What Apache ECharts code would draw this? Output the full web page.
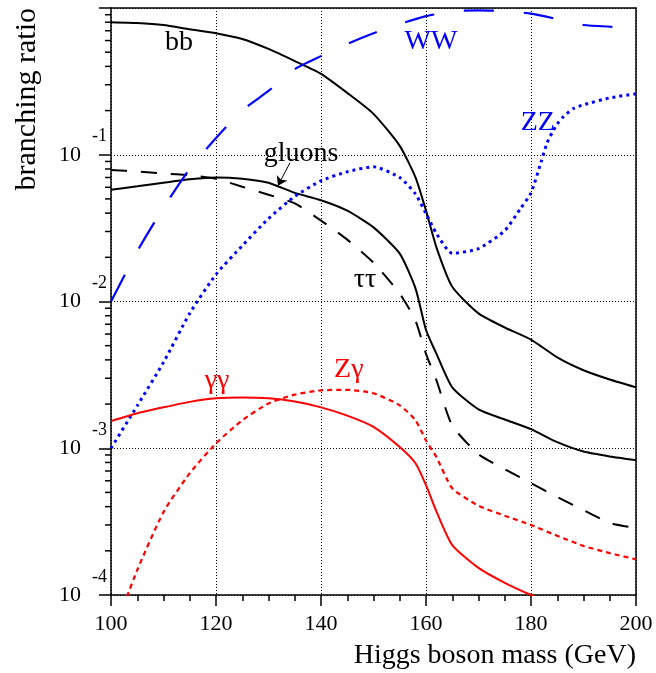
<!DOCTYPE html>
<html>
<head>
<meta charset="utf-8">
<script src="https://cdn.jsdelivr.net/npm/echarts@6/dist/echarts.min.js"></script>
<style>
  html, body { margin: 0; padding: 0; background: #fff; }
  #chart { width: 656px; height: 673px; }
</style>
</head>
<body>
<div id="chart"></div>
<script>
// Higgs boson mass (GeV)
var mass = [100, 105, 110, 115, 120, 125, 130, 135, 140, 145, 150, 155, 158, 160, 162, 165, 170, 175, 180, 185, 190, 195, 200];

var brBB  = [0.80, 0.79, 0.765, 0.716, 0.673, 0.615, 0.526, 0.435, 0.356, 0.264, 0.19, 0.115, 0.070, 0.0416, 0.0233, 0.0126, 0.0083, 0.00665, 0.0055, 0.00416, 0.0034, 0.00294, 0.0026];
var brGG  = [0.0578, 0.061, 0.0645, 0.068, 0.070, 0.0687, 0.0645, 0.055, 0.049, 0.0416, 0.032, 0.0212, 0.0123, 0.0064, 0.0044, 0.0026, 0.00184, 0.00157, 0.00135, 0.0011, 0.00095, 0.00088, 0.00083];
var brTT  = [0.0787, 0.077, 0.0746, 0.0725, 0.0687, 0.0605, 0.0534, 0.0466, 0.0356, 0.0264, 0.0184, 0.0113, 0.0074, 0.0044, 0.0029, 0.00143, 0.00091, 0.00072, 0.000578, 0.000465, 0.000379, 0.00031, 0.000286];
var brWW  = [0.01, 0.022, 0.0436, 0.080, 0.13, 0.20, 0.272, 0.383, 0.47, 0.569, 0.673, 0.778, 0.84, 0.88, 0.91, 0.953, 0.964, 0.955, 0.915, 0.84, 0.766, 0.746, 0.734];
var brAA  = [0.00153, 0.00173, 0.0019, 0.00207, 0.00219, 0.00222, 0.00219, 0.00208, 0.0019, 0.00167, 0.0014, 0.00102, 0.00079, 0.00056, 0.00037, 0.000219, 0.000153, 0.000121, 0.0001, 0.000085, 0.000075, 0.000068, 0.000062];
var brZA  = [0.00005, 0.000148, 0.000367, 0.000676, 0.00108, 0.00155, 0.00202, 0.00232, 0.00248, 0.0025, 0.00237, 0.00196, 0.00155, 0.00113, 0.00087, 0.000534, 0.000406, 0.000347, 0.0003, 0.000253, 0.000216, 0.000193, 0.000175];

var massZZ = [100, 105, 110, 115, 120, 125, 130, 135, 140, 145, 150, 155, 158, 160, 162, 165, 170, 175, 178, 180, 182, 183, 184, 185, 186, 188, 190, 195, 200];
var brZZ   = [0.001, 0.00195, 0.00385, 0.0083, 0.0153, 0.024, 0.0367, 0.052, 0.0665, 0.0766, 0.0828, 0.070, 0.054, 0.0397, 0.029, 0.0213, 0.0229, 0.0304, 0.043, 0.055, 0.091, 0.119, 0.141, 0.162, 0.179, 0.206, 0.219, 0.244, 0.26];

// minor ticks of the log axis: 2..9 x 10^n
var minorTicks = [];
[-4, -3, -2, -1].forEach(function (n) {
    for (var k = 2; k <= 9; k++) minorTicks.push(k * Math.pow(10, n));
});

var FONT = 'Liberation Serif';
var X_MIN = 100, X_MAX = 200;

function pairs(xs, ys) {
    return xs.map(function (x, i) { return [x, ys[i]]; });
}

function tag(text, x, y, color) {
    return {
        symbol: 'circle',
        symbolSize: 1,
        itemStyle: { color: 'rgba(0,0,0,0)' },
        label: { show: true, position: 'inside', formatter: text, color: color, fontFamily: FONT, fontSize: 28 },
        data: [{ coord: [x, y] }]
    };
}

function line(name, xs, ys, color, width, type, mark) {
    return {
        name: name,
        type: 'line',
        data: pairs(xs, ys),
        showSymbol: false,
        symbol: 'none',
        smooth: 0.2,
        clip: true,
        lineStyle: { color: color, width: width, type: type },
        markPoint: mark
    };
}

var chart = echarts.init(document.getElementById('chart'));

var gluSeries = line('gluons', mass, brGG, '#000', 2, 'solid', tag('gluons', 136.2, 0.1017, '#000'));
gluSeries.markLine = {
    silent: true,
    symbol: ['none', 'arrow'],
    symbolSize: 9,
    label: { show: false },
    lineStyle: { color: '#000', width: 1, type: 'solid' },
    data: [[{ coord: [134.1, 0.0883] }, { coord: [131.8, 0.0615] }]]
};

// short ticks on the left edge for 2..9 x 10^n
var minorTickSeries = {
    type: 'custom',
    silent: true,
    clip: false,
    z: 5,
    data: minorTicks.map(function (v) { return [X_MIN, v]; }),
    renderItem: function (params, api) {
        var p = api.coord([api.value(0), api.value(1)]);
        return {
            type: 'line',
            shape: { x1: p[0] - 6, y1: p[1], x2: p[0], y2: p[1] },
            style: { stroke: '#000', lineWidth: 1.5 }
        };
    }
};

var dotted = { color: '#000', type: [1, 2], width: 1 };
var tickStyle = { color: '#000', width: 1.5 };

chart.setOption({
    animation: false,
    grid: { left: 111, right: 20, top: 8, bottom: 78 },
    xAxis: [{
        type: 'value', min: X_MIN, max: X_MAX, interval: 20,
        axisLine: { show: true, lineStyle: { color: '#000', width: 1.5 } },
        axisTick: { show: true, length: 11, lineStyle: tickStyle },
        minorTick: { show: true, splitNumber: 4, length: 6, lineStyle: tickStyle },
        axisLabel: { fontFamily: FONT, fontSize: 22, color: '#000', margin: 18 },
        splitLine: { show: true, lineStyle: dotted }
    }, {
        type: 'value', min: X_MIN, max: X_MAX, position: 'top',
        axisLine: { show: true, lineStyle: { color: '#000', width: 1.5 } },
        axisTick: { show: false }, axisLabel: { show: false }, splitLine: { show: false }
    }],
    yAxis: [{
        type: 'log', logBase: 10, min: 0.0001, max: 1,
        axisLine: { show: true, lineStyle: { color: '#000', width: 1.5 } },
        axisTick: { show: true, length: 12, lineStyle: tickStyle },
        axisLabel: {
            margin: 4, color: '#000',
            formatter: function (v) {
                var e = Math.round(Math.log10(v));
                if (e === 0) return '';
                return '{b|10}{e|' + e + '}';
            },
            rich: {
                b: { fontFamily: FONT, fontSize: 22, lineHeight: 24, color: '#000' },
                e: { fontFamily: FONT, fontSize: 18, lineHeight: 18, color: '#000', padding: [0, 0, 36, 11] }
            }
        },
        splitLine: { show: true, lineStyle: dotted }
    }, {
        type: 'log', logBase: 10, min: 0.0001, max: 1, position: 'right',
        axisLine: { show: true, lineStyle: { color: '#000', width: 1.5 } },
        axisTick: { show: false }, axisLabel: { show: false }, splitLine: { show: false }
    }],
    graphic: [{
        type: 'text', x: 12, y: 8, rotation: Math.PI / 2,
        style: { text: 'branching ratio', font: '30px "Liberation Serif"', fill: '#000', align: 'right', verticalAlign: 'top' }
    }, {
        type: 'text', x: 636, y: 656,
        style: { text: 'Higgs boson mass (GeV)', font: '28px "Liberation Serif"', fill: '#000', align: 'right', verticalAlign: 'middle' }
    }],
    series: [
        minorTickSeries,
        line('bb', mass, brBB, '#000', 2, 'solid', tag('bb', 112.95, 0.578, '#000')),
        gluSeries,
        line('ττ', mass, brTT, '#000', 2, [16, 14], tag('ττ', 148.4, 0.0141, '#000')),
        line('WW', mass, brWW, '#0000ff', 2.2, [30, 30], tag('WW', 160.95, 0.587, '#0000ff')),
        line('ZZ', massZZ, brZZ, '#0000ff', 3, [3, 4], tag('ZZ', 181.3, 0.165, '#0000ff')),
        line('γγ', mass, brAA, '#ff0000', 2, 'solid', tag('γγ', 120.2, 0.0029, '#ff0000')),
        line('Zγ', mass, brZA, '#ff0000', 2.2, [5, 4], tag('Zγ', 145.3, 0.00344, '#ff0000'))
    ]
});
</script>
</body>
</html>
